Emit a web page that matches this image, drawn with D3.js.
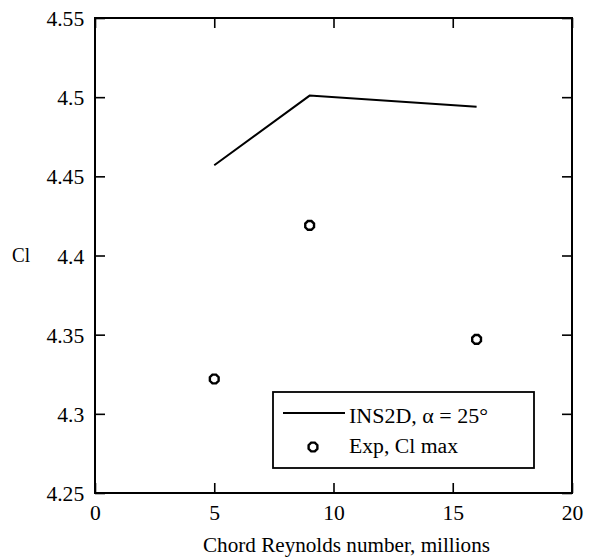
<!DOCTYPE html>
<html>
<head>
<meta charset="utf-8">
<script src="https://cdn.jsdelivr.net/npm/d3@7"></script>
<style>
  body { margin: 0; background: #fff; }
  svg text { font-family: "Liberation Serif", "Times New Roman", serif; fill: #000; }
</style>
</head>
<body>
<div id="chart"></div>
<script>
// INS2D computed values
var reynolds = [5, 9, 16];
var clComputed = [4.457, 4.501, 4.494];
// experimental Cl max
var expReynolds = [5, 9, 16];
var clExp = [4.322, 4.419, 4.347];

var xTicks = [0, 5, 10, 15, 20];
var yTicks = [4.25, 4.3, 4.35, 4.4, 4.45, 4.5, 4.55];

var width = 590, height = 557;
var margin = {top: 18, right: 18, bottom: 64, left: 95};

var svg = d3.select("#chart").append("svg")
    .attr("width", width)
    .attr("height", height);

var xScale = d3.scaleLinear().domain([0, 20]).range([margin.left, width - margin.right]);
var yScale = d3.scaleLinear().domain([4.25, 4.55]).range([height - margin.bottom, margin.top]);

var tickLen = 10;

// axes, ticks pointing inward on all four sides
var xAxisG = svg.append("g")
    .attr("transform", "translate(0," + yScale(4.25) + ")")
    .call(d3.axisBottom(xScale).tickValues(xTicks).tickSizeInner(-tickLen).tickSizeOuter(0).tickPadding(13).tickFormat(d3.format("d")));
svg.append("g")
    .attr("transform", "translate(0," + yScale(4.55) + ")")
    .call(d3.axisTop(xScale).tickValues(xTicks).tickSizeInner(-tickLen).tickSizeOuter(0).tickFormat(""));
var yAxisG = svg.append("g")
    .attr("transform", "translate(" + xScale(0) + ",0)")
    .call(d3.axisLeft(yScale).tickValues(yTicks).tickSizeInner(-tickLen).tickSizeOuter(0).tickPadding(10).tickFormat(function(d) { return d3.format("")(+d.toFixed(2)); }));
svg.append("g")
    .attr("transform", "translate(" + xScale(20) + ",0)")
    .call(d3.axisRight(yScale).tickValues(yTicks).tickSizeInner(-tickLen).tickSizeOuter(0).tickFormat(""));

svg.selectAll(".domain").remove();
svg.selectAll(".tick line").attr("stroke", "#000").attr("stroke-width", 1.6);
svg.selectAll(".tick text")
    .style("font-size", "20px")
    .style("font-family", "'Liberation Serif', serif");
yAxisG.selectAll(".tick text").attr("dy", "0.38em")
    .attr("transform", "scale(1.08,1)");
xAxisG.selectAll(".tick text").attr("transform", "scale(1.08,1)");

// frame
svg.append("rect")
    .attr("x", xScale(0))
    .attr("y", yScale(4.55))
    .attr("width", xScale(20) - xScale(0))
    .attr("height", yScale(4.25) - yScale(4.55))
    .attr("fill", "none")
    .attr("stroke", "#000")
    .attr("stroke-width", 2);

// INS2D line
var line = d3.line()
    .x(function(d, i) { return xScale(reynolds[i]); })
    .y(function(d) { return yScale(d); });
svg.append("path")
    .datum(clComputed)
    .attr("d", line)
    .attr("fill", "none")
    .attr("stroke", "#000")
    .attr("stroke-width", 2);

// experimental points (small octagons)
var octagon = d3.symbol().type({
    draw: function(ctx, size) {
        var r = Math.sqrt(size) / 2;
        for (var k = 0; k < 8; k++) {
            var a = Math.PI / 8 + k * Math.PI / 4;
            if (k == 0) ctx.moveTo(r * Math.cos(a), r * Math.sin(a));
            else ctx.lineTo(r * Math.cos(a), r * Math.sin(a));
        }
        ctx.closePath();
    }
}).size(90);

svg.selectAll(".exp")
    .data(clExp)
    .enter()
    .append("path")
    .attr("class", "exp")
    .attr("d", octagon)
    .attr("transform", function(d, i) { return "translate(" + xScale(expReynolds[i]) + "," + yScale(d) + ")"; })
    .attr("fill", "none")
    .attr("stroke", "#000")
    .attr("stroke-width", 2.4);

// legend
var legend = svg.append("g").attr("transform", "translate(273,392)");
legend.append("rect")
    .attr("width", 261)
    .attr("height", 76)
    .attr("fill", "#fff")
    .attr("stroke", "#000")
    .attr("stroke-width", 1.8);
legend.append("line")
    .attr("x1", 10).attr("x2", 72)
    .attr("y1", 21).attr("y2", 21)
    .attr("stroke", "#000")
    .attr("stroke-width", 1.8);
legend.append("text")
    .attr("x", 76)
    .attr("y", 31)
    .attr("font-size", 20)
    .attr("textLength", 139)
    .attr("lengthAdjust", "spacingAndGlyphs")
    .text("INS2D,  \u03B1 = 25\u00B0");
legend.append("path")
    .attr("d", octagon)
    .attr("transform", "translate(40,55)")
    .attr("fill", "none")
    .attr("stroke", "#000")
    .attr("stroke-width", 2.4);
legend.append("text")
    .attr("x", 76)
    .attr("y", 61)
    .attr("font-size", 20)
    .attr("textLength", 109)
    .attr("lengthAdjust", "spacingAndGlyphs")
    .text("Exp, Cl max");

// axis titles
svg.append("text")
    .attr("x", 203)
    .attr("y", 552)
    .attr("font-size", 20)
    .attr("textLength", 287)
    .attr("lengthAdjust", "spacingAndGlyphs")
    .text("Chord Reynolds number, millions");
svg.append("text")
    .attr("x", 12)
    .attr("y", 262)
    .attr("font-size", 20)
    .attr("textLength", 18)
    .attr("lengthAdjust", "spacingAndGlyphs")
    .text("Cl");
</script>
</body>
</html>
